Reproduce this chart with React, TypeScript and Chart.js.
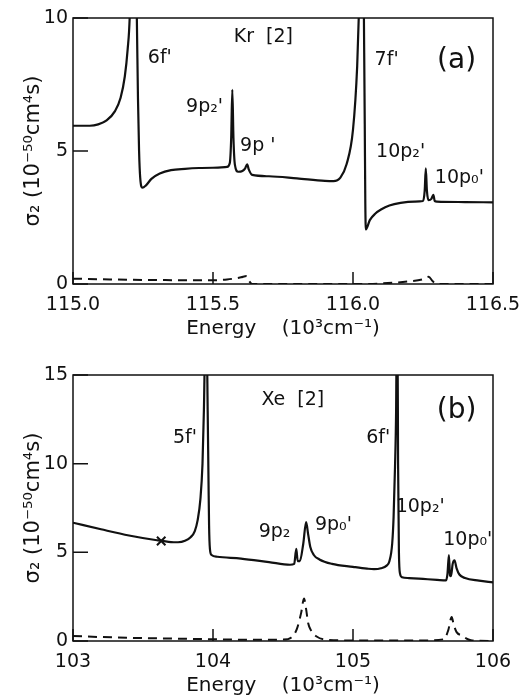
import { useEffect, useRef } from "react";
import { Chart, registerables } from "chart.js";
Chart.register(...registerables);

// ---------- Panel (a): Kr ----------
const krSolidX = [115.0, 115.06, 115.09, 115.12, 115.15, 115.17, 115.185, 115.195, 115.203, 115.21, 115.22, 115.228, 115.232, 115.236, 115.24, 115.248, 115.26, 115.28, 115.31, 115.35, 115.4, 115.45, 115.5, 115.55, 115.56, 115.565, 115.569, 115.573, 115.578, 115.59, 115.605, 115.615, 115.622, 115.628, 115.64, 115.7, 115.8, 115.9, 115.93, 115.955, 115.977, 116.0, 116.015, 116.022, 116.03, 116.036, 116.039, 116.042, 116.044, 116.046, 116.06, 116.08, 116.1, 116.13, 116.17, 116.22, 116.25, 116.256, 116.26, 116.264, 116.27, 116.28, 116.287, 116.292, 116.3, 116.4, 116.5];
const krSolidY = [5.95, 5.95, 6.0, 6.15, 6.5, 7.0, 7.8, 8.8, 10.2, 14, 14, 10, 7, 5, 4.0, 3.62, 3.7, 3.95, 4.15, 4.28, 4.33, 4.36, 4.37, 4.4, 4.55, 5.5, 7.3, 5.5, 4.5, 4.22, 4.25, 4.35, 4.5, 4.3, 4.1, 4.05, 3.97, 3.88, 3.87, 4.0, 4.5, 5.8, 8.2, 10.5, 14, 14, 10, 6, 3, 2.05, 2.4, 2.65, 2.8, 2.95, 3.05, 3.1, 3.12, 3.5, 4.35, 3.5, 3.15, 3.2, 3.35, 3.12, 3.1, 3.08, 3.07];
const krDashX = [115.0, 115.1, 115.2, 115.3, 115.4, 115.5, 115.55, 115.6, 115.62, 115.63, 115.64, 116.0, 116.1, 116.2, 116.25, 116.27, 116.285, 116.3, 116.5];
const krDashY = [0.2, 0.18, 0.16, 0.15, 0.14, 0.14, 0.17, 0.25, 0.3, 0.1, 0, 0, 0.02, 0.1, 0.18, 0.27, 0.1, 0, 0];
const krLabelText = ["6f'", "Kr  [2]", "(a)", "7f'", "9p₂'", "9p '", "10p₂'", "10p₀'"];
const krLabelX = [115.31, 115.68, 116.37, 116.12, 115.47, 115.66, 116.17, 116.38];
const krLabelY = [8.5, 9.3, 8.4, 8.4, 6.65, 5.2, 4.97, 3.98];
const krXTicks = [115.0, 115.5, 116.0, 116.5];
const krYTicks = [0, 5, 10];

// ---------- Panel (b): Xe ----------
const xeSolidX = [103.0, 103.2, 103.4, 103.6, 103.7, 103.75, 103.8, 103.84, 103.87, 103.89, 103.91, 103.925, 103.935, 103.945, 103.955, 103.962, 103.968, 103.972, 103.978, 103.99, 104.03, 104.2, 104.4, 104.55, 104.58, 104.595, 104.605, 104.62, 104.645, 104.665, 104.68, 104.695, 104.72, 104.76, 104.85, 105.0, 105.1, 105.15, 105.2, 105.24, 105.26, 105.28, 105.29, 105.3, 105.308, 105.312, 105.318, 105.322, 105.328, 105.336, 105.35, 105.4, 105.5, 105.6, 105.665, 105.675, 105.685, 105.693, 105.7, 105.712, 105.725, 105.74, 105.76, 105.8, 105.9, 106.0];
const xeSolidY = [6.67, 6.3, 5.95, 5.68, 5.58, 5.57, 5.65, 5.85, 6.2, 6.8, 8.0, 10, 13, 17, 17, 13, 9, 6.5, 5.2, 4.85, 4.75, 4.65, 4.45, 4.3, 4.35, 5.2, 4.5, 4.5, 5.5, 6.7, 6.0, 5.3, 4.85, 4.6, 4.35, 4.18, 4.08, 4.05, 4.1, 4.25, 4.5, 5.5, 7.0, 9.8, 13, 17, 17, 10, 5, 3.8, 3.6, 3.55, 3.5, 3.45, 3.42, 3.8, 4.85, 3.7, 3.65, 4.35, 4.55, 4.1, 3.75, 3.55, 3.4, 3.3];
const xeDashX = [103.0, 103.3, 103.6, 104.0, 104.3, 104.5, 104.56, 104.6, 104.63, 104.65, 104.665, 104.68, 104.7, 104.74, 104.8, 105.0, 105.5, 105.65, 105.68, 105.705, 105.72, 105.74, 105.78, 105.82, 105.85, 106.0];
const xeDashY = [0.28, 0.2, 0.15, 0.1, 0.07, 0.08, 0.2, 0.7, 1.6, 2.4, 1.8, 1.0, 0.6, 0.25, 0.08, 0.03, 0.03, 0.1, 0.6, 1.35, 0.9, 0.5, 0.3, 0.1, 0.03, 0];
const xeMarkX = [103.63];
const xeMarkY = [5.64];
const xeLabelText = ["Xe  [2]", "(b)", "5f'", "6f'", "9p₂", "9p₀'", "10p₂'", "10p₀'"];
const xeLabelX = [104.57, 105.74, 103.8, 105.18, 104.44, 104.86, 105.48, 105.82];
const xeLabelY = [13.6, 13.0, 11.45, 11.45, 6.15, 6.55, 7.57, 5.7];
const xeXTicks = [103, 104, 105, 106];
const xeYTicks = [0, 5, 10, 15];

const INK = "#111";
const FONT = "'DejaVu Sans', sans-serif";

function pts(xs: number[], ys: number[]) {
  return xs.map((x, i) => ({ x, y: ys[i] }));
}

function framePlugin(texts: string[], lx: number[], ly: number[], xt: number[], yt: number[]) {
  return {
    id: "frameAnnot",
    afterDatasetsDraw(chart: any) {
      const { ctx, chartArea: a, scales } = chart;
      ctx.save();
      ctx.strokeStyle = INK;
      ctx.lineWidth = 1.5;
      ctx.strokeRect(a.left, a.top, a.right - a.left, a.bottom - a.top);
      ctx.beginPath();
      xt.forEach((v) => {
        const px = scales.x.getPixelForValue(v);
        ctx.moveTo(px, a.bottom);
        ctx.lineTo(px, a.bottom - 12);
      });
      yt.forEach((v) => {
        const py = scales.y.getPixelForValue(v);
        ctx.moveTo(a.left, py);
        ctx.lineTo(a.left + 15, py);
      });
      ctx.stroke();
      ctx.fillStyle = INK;
      ctx.textAlign = "center";
      ctx.textBaseline = "middle";
      texts.forEach((t, i) => {
        ctx.font = t.startsWith("(") ? `28px ${FONT}` : `19px ${FONT}`;
        ctx.fillText(t, scales.x.getPixelForValue(lx[i]), scales.y.getPixelForValue(ly[i]));
      });
      ctx.restore();
    },
  };
}

function Panel(props: {
  top: number; height: number; padTop: number; axisH: number; titlePadB: number;
  xMin: number; xMax: number; xStep: number; yMax: number; decimals: number;
  solid: { x: number; y: number }[]; dash: { x: number; y: number }[];
  mark?: { x: number; y: number }[];
  texts: string[]; lx: number[]; ly: number[]; xt: number[]; yt: number[];
}) {
  const ref = useRef<HTMLCanvasElement>(null);
  useEffect(() => {
    if (!ref.current) return;
    const datasets: any[] = [
      { data: props.solid, borderColor: INK, borderWidth: 2.2, pointRadius: 0, cubicInterpolationMode: "monotone", fill: false },
      { data: props.dash, borderColor: INK, borderWidth: 2, borderDash: [9, 6], pointRadius: 0, cubicInterpolationMode: "monotone", fill: false },
    ];
    if (props.mark) {
      datasets.push({ data: props.mark, showLine: false, pointStyle: "crossRot", pointRadius: 6, borderColor: INK, borderWidth: 2 });
    }
    const chart = new Chart(ref.current, {
      type: "line",
      data: { datasets },
      options: {
        animation: false,
        responsive: false,
        devicePixelRatio: 1,
        layout: { padding: { top: props.padTop, right: 30, left: 0, bottom: 0 } },
        plugins: { legend: { display: false }, tooltip: { enabled: false } },
        scales: {
          x: {
            type: "linear",
            min: props.xMin,
            max: props.xMax,
            grid: { display: false, drawTicks: false },
            border: { display: false },
            ticks: {
              stepSize: props.xStep,
              padding: 10,
              color: INK,
              font: { family: FONT, size: 19 },
              maxRotation: 0,
              callback: (v: any) => Number(v).toFixed(props.decimals),
            },
            title: {
              display: true,
              text: "Energy    (10³cm⁻¹)",
              color: INK,
              font: { family: FONT, size: 20 },
              padding: { top: 0, bottom: props.titlePadB },
            },
            afterFit: (s: any) => { s.height = props.axisH; s.paddingLeft = 0; s.paddingRight = 0; },
          },
          y: {
            type: "linear",
            min: 0,
            max: props.yMax,
            grid: { display: false, drawTicks: false },
            border: { display: false },
            ticks: { stepSize: 5, padding: 5, color: INK, font: { family: FONT, size: 19 } },
            title: {
              display: true,
              text: "σ₂ (10⁻⁵⁰cm⁴s)",
              color: INK,
              font: { family: FONT, size: 21 },
              padding: { top: 21, bottom: 0 },
            },
            afterFit: (s: any) => { s.width = 73; s.paddingTop = 0; s.paddingBottom = 0; },
          },
        },
      },
      plugins: [framePlugin(props.texts, props.lx, props.ly, props.xt, props.yt)],
    });
    return () => chart.destroy();
  }, []);
  return (
    <canvas
      ref={ref}
      width={523}
      height={props.height}
      style={{ position: "absolute", left: 0, top: props.top, width: 523, height: props.height, display: "block" }}
    />
  );
}

export default function App() {
  return (
    <div style={{ position: "absolute", left: 0, top: 0, width: 523, height: 698, background: "#fff" }}>
      <Panel
        top={0} height={345} padTop={18} axisH={61} titlePadB={4}
        xMin={115} xMax={116.5} xStep={0.5} yMax={10} decimals={1}
        solid={pts(krSolidX, krSolidY)} dash={pts(krDashX, krDashY)}
        texts={krLabelText} lx={krLabelX} ly={krLabelY} xt={krXTicks} yt={krYTicks}
      />
      <Panel
        top={345} height={353} padTop={30} axisH={57} titlePadB={0}
        xMin={103} xMax={106} xStep={1} yMax={15} decimals={0}
        solid={pts(xeSolidX, xeSolidY)} dash={pts(xeDashX, xeDashY)}
        mark={pts(xeMarkX, xeMarkY)}
        texts={xeLabelText} lx={xeLabelX} ly={xeLabelY} xt={xeXTicks} yt={xeYTicks}
      />
    </div>
  );
}
